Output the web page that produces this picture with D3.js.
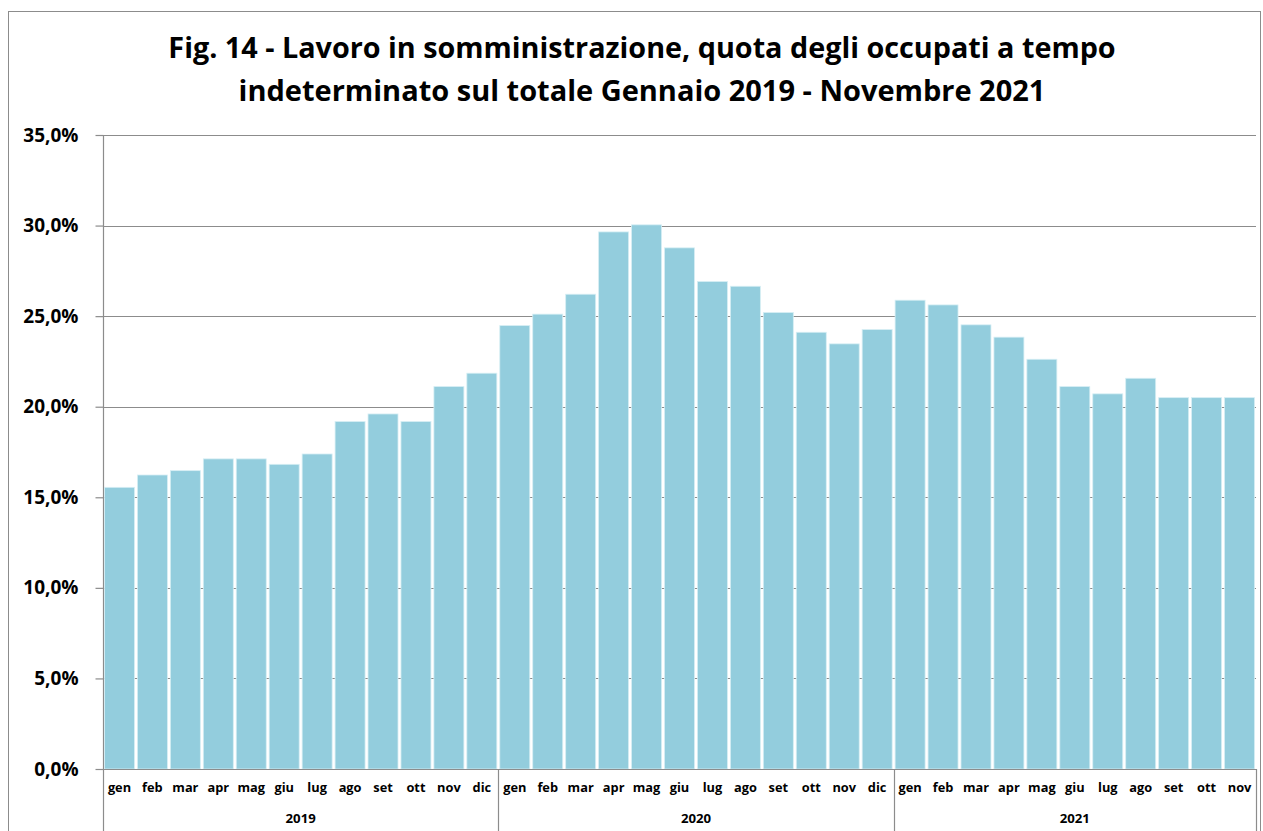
<!DOCTYPE html>
<html><head><meta charset="utf-8">
<script src="https://cdn.jsdelivr.net/npm/d3@7"></script>
<style>body{margin:0;background:#fff}svg{display:block}text{font-family:"Open Sans",sans-serif;font-weight:bold;fill:#000}</style>
</head><body><svg id="c" width="1263" height="831"></svg>
<script>
const years = ["2019","2020","2021"];
const months = ["gen","feb","mar","apr","mag","giu","lug","ago","set","ott","nov","dic"];
const values2019 = [15.55,16.23,16.47,17.12,17.12,16.82,17.39,19.18,19.60,19.18,21.11,21.85];
const values2020 = [24.48,25.11,26.21,29.65,30.04,28.77,26.91,26.65,25.20,24.11,23.47,24.26];
const values2021 = [25.88,25.62,24.52,23.84,22.62,21.11,20.71,21.57,20.50,20.50,20.50];
const yTicks = [0,5,10,15,20,25,30,35];
const titleLines = ["Fig. 14 - Lavoro in somministrazione, quota degli occupati a tempo","indeterminato sul totale Gennaio 2019 - Novembre 2021"];

const data = [];
[values2019,values2020,values2021].forEach((arr,yi)=>arr.forEach((v,mi)=>data.push({key:years[yi]+"-"+mi,year:years[yi],month:months[mi],value:v})));

const svg = d3.select("#c");
const L=103,R=1256,T=135,B=769;
const x = d3.scaleBand().domain(data.map(d=>d.key)).range([L,R]).paddingInner(0.09).paddingOuter(0.045);
const y = d3.scaleLinear().domain([0,35]).range([B,T]);
const loc = d3.formatLocale({decimal:",",thousands:".",grouping:[3],currency:["€",""]});
const fmt = v => loc.format(".1f")(v)+"%";

svg.append("rect").attr("x",8.5).attr("y",11.5).attr("width",1252).attr("height",840).attr("fill","none").attr("stroke","#8c8c8c").attr("stroke-width",1);

// gridlines
svg.append("g").selectAll("line").data(yTicks.filter(t=>t>0)).join("line")
  .attr("x1",L).attr("x2",R).attr("y1",d=>Math.round(y(d))+0.5).attr("y2",d=>Math.round(y(d))+0.5)
  .attr("stroke","#8c8c8c").attr("stroke-width",1.2);

// y axis
const yAxis = d3.axisLeft(y).tickValues(yTicks).tickFormat(fmt).tickSize(8).tickPadding(17);
const ya = svg.append("g").attr("transform",`translate(${L+0.5},0)`).call(yAxis);
ya.select(".domain").attr("stroke","#8c8c8c").attr("stroke-width",1.2).attr("d",`M0,${T}V${B}`);
ya.selectAll(".tick line").attr("stroke","#8c8c8c").attr("stroke-width",1.2);
ya.selectAll(".tick text").attr("font-size",19).attr("font-family","Open Sans").attr("font-weight","bold").attr("fill","#000");

// bars
svg.append("g").selectAll("rect").data(data).join("rect")
  .attr("x",d=>x(d.key)).attr("width",x.bandwidth())
  .attr("y",d=>y(d.value)).attr("height",d=>B-y(d.value))
  .attr("fill","#93cddd").attr("stroke","#d6eef4").attr("stroke-width",0.8);

// x axis (months)
const xAxis = d3.axisBottom(x).tickFormat(k=>data.find(d=>d.key===k).month).tickSize(0).tickPadding(13);
const xa = svg.append("g").attr("transform",`translate(0,${B+0.5})`).call(xAxis);
xa.select(".domain").attr("stroke","#8c8c8c").attr("stroke-width",1.2).attr("d",`M${L},0H${R}`);
xa.selectAll(".tick text").attr("font-size",12.8).attr("font-family","Open Sans").attr("font-weight","bold").attr("fill","#000");

// year groups
const yearBounds = years.map((yr,i)=>{
  const keys = data.filter(d=>d.year===yr).map(d=>d.key);
  const x0 = i===0 ? L : x(keys[0]) - (x.step()-x.bandwidth())/2;
  const x1 = i===years.length-1 ? R : x(keys[keys.length-1]) + x.bandwidth() + (x.step()-x.bandwidth())/2;
  return {yr,x0,x1};
});
const sepX = [L, ...yearBounds.slice(1).map(b=>b.x0), R];
svg.append("g").selectAll("line").data(sepX).join("line")
  .attr("x1",d=>Math.round(d)+0.5).attr("x2",d=>Math.round(d)+0.5).attr("y1",B).attr("y2",831)
  .attr("stroke","#8c8c8c").attr("stroke-width",1.2);
svg.append("g").selectAll("text").data(yearBounds).join("text")
  .attr("x",d=>(d.x0+d.x1)/2).attr("y",823).attr("text-anchor","middle").attr("font-size",13.2).text(d=>d.yr);

// title
const tg = svg.append("g");
const tys=[58,101];
const targetW=[948,807];
titleLines.forEach((t,i)=>{
  const tx = tg.append("text").attr("x",642).attr("y",tys[i]).attr("text-anchor","middle").attr("font-size",28).text(t);
  const w = tx.node().getComputedTextLength();
  tx.attr("font-size",28*targetW[i]/w);
});
</script></body></html>
